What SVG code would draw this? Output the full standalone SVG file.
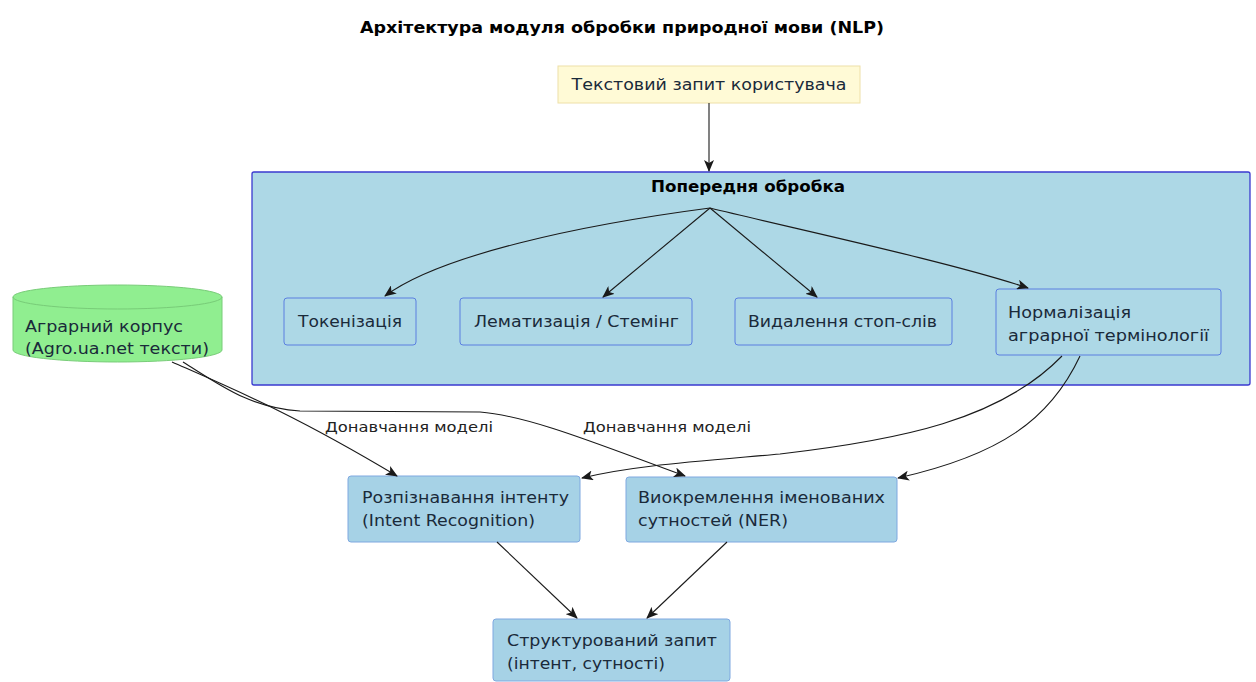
<svg xmlns="http://www.w3.org/2000/svg" width="1256" height="682" viewBox="0 0 1256 682">
<style>
text{font-family:"DejaVu Sans","Noto Sans",sans-serif;font-size:15px;fill:#1a2a3a}
.b{font-weight:bold;fill:#000}
.lbl{font-size:14px;fill:#222}
.box{fill:#add8e6;stroke:#5a7fe0;stroke-width:1}
.box2{fill:#a6d2e6;stroke:#7fa8e0;stroke-width:1}
.e{fill:none;stroke:#1a1a1a;stroke-width:1.1}
</style>
<defs>
<marker id="ah" viewBox="0 0 12 10" refX="11" refY="5" markerWidth="12" markerHeight="10" markerUnits="userSpaceOnUse" orient="auto">
<path d="M0,0 L12,5 L0,10 L3,5 Z" fill="#1a1a1a"/>
</marker>
</defs>
<rect width="1256" height="682" fill="#fff"/>
<text class="b" x="622" y="33" text-anchor="middle" textLength="524" lengthAdjust="spacingAndGlyphs">Архітектура модуля обробки природної мови (NLP)</text>
<g id="cluster_pre">
<rect x="252" y="172" width="998" height="213" fill="#add8e6" stroke="#3a3ad0" stroke-width="1.3" rx="2"/>
<text class="b" x="748" y="192" text-anchor="middle" textLength="194" lengthAdjust="spacingAndGlyphs">Попередня обробка</text>
</g>
<g id="user_query">
<rect x="558" y="66" width="302" height="37" fill="#fffad6" stroke="#eee0a8" stroke-width="1"/>
<text x="709" y="90" text-anchor="middle" textLength="275" lengthAdjust="spacingAndGlyphs">Текстовий запит користувача</text>
</g>
<g id="tokenize">
<rect class="box" x="284" y="298" width="132" height="47" rx="3"/>
<text x="298" y="327" textLength="104" lengthAdjust="spacingAndGlyphs">Токенізація</text>
</g>
<g id="lemma">
<rect class="box" x="460" y="298" width="232" height="47" rx="3"/>
<text x="474" y="327" textLength="205" lengthAdjust="spacingAndGlyphs">Лематизація / Стемінг</text>
</g>
<g id="stopwords">
<rect class="box" x="735" y="298" width="217" height="47" rx="3"/>
<text x="748" y="327" textLength="189" lengthAdjust="spacingAndGlyphs">Видалення стоп-слів</text>
</g>
<g id="normalize">
<rect class="box" x="996" y="289" width="225" height="66" rx="3"/>
<text x="1008" y="318" textLength="123" lengthAdjust="spacingAndGlyphs">Нормалізація</text>
<text x="1008" y="341" textLength="201" lengthAdjust="spacingAndGlyphs">аграрної термінології</text>
</g>
<g id="corpus">
<path d="M13,297 L13,350 A104.5,12 0 0 0 222,350 L222,297 A104.5,12 0 0 0 13,297 Z" fill="#90ee90" stroke="#78cc78" stroke-width="1"/>
<path d="M13,297 A104.5,12 0 0 0 222,297" fill="none" stroke="#78cc78" stroke-width="1"/>
<text x="25" y="332" textLength="158" lengthAdjust="spacingAndGlyphs">Аграрний корпус</text>
<text x="25" y="354" textLength="184" lengthAdjust="spacingAndGlyphs">(Agro.ua.net тексти)</text>
</g>
<g id="intent">
<rect class="box2" x="348" y="476" width="232" height="66" rx="3"/>
<text x="362" y="503" textLength="207" lengthAdjust="spacingAndGlyphs">Розпізнавання інтенту</text>
<text x="362" y="526" textLength="173" lengthAdjust="spacingAndGlyphs">(Intent Recognition)</text>
</g>
<g id="ner">
<rect class="box2" x="626" y="477" width="271" height="65" rx="3"/>
<text x="638" y="503" textLength="247" lengthAdjust="spacingAndGlyphs">Виокремлення іменованих</text>
<text x="638" y="526" textLength="150" lengthAdjust="spacingAndGlyphs">сутностей (NER)</text>
</g>
<g id="structured">
<rect class="box2" x="493" y="619" width="237" height="62" rx="3"/>
<text x="507" y="646" textLength="210" lengthAdjust="spacingAndGlyphs">Структурований запит</text>
<text x="507" y="669" textLength="158" lengthAdjust="spacingAndGlyphs">(інтент, сутності)</text>
</g>
<g id="edges">
<path class="e" d="M709,103 L709,171" marker-end="url(#ah)"/>
<path class="e" d="M710,208 C580,225 440,255 385,296" marker-end="url(#ah)"/>
<path class="e" d="M710,208 L603,297" marker-end="url(#ah)"/>
<path class="e" d="M710,208 L817,297" marker-end="url(#ah)"/>
<path class="e" d="M710,208 C800,230 950,262 1028,288" marker-end="url(#ah)"/>
<path class="e" d="M172,362 C240,392 295,415 397,476" marker-end="url(#ah)"/>
<path class="e" d="M183,362 C220,385 250,408 300,411 L480,412 C530,416 600,445 685,476" marker-end="url(#ah)"/>
<path class="e" d="M1062,356 C1000,420 900,440 780,454 C690,462 630,466 582,478" marker-end="url(#ah)"/>
<path class="e" d="M1080,356 C1050,420 1000,455 898,478" marker-end="url(#ah)"/>
<path class="e" d="M497,542 L577,618" marker-end="url(#ah)"/>
<path class="e" d="M727,542 L647,618" marker-end="url(#ah)"/>
<text class="lbl" x="325" y="432" textLength="168" lengthAdjust="spacingAndGlyphs">Донавчання моделі</text>
<text class="lbl" x="583" y="432" textLength="168" lengthAdjust="spacingAndGlyphs">Донавчання моделі</text>
</g>
</svg>
